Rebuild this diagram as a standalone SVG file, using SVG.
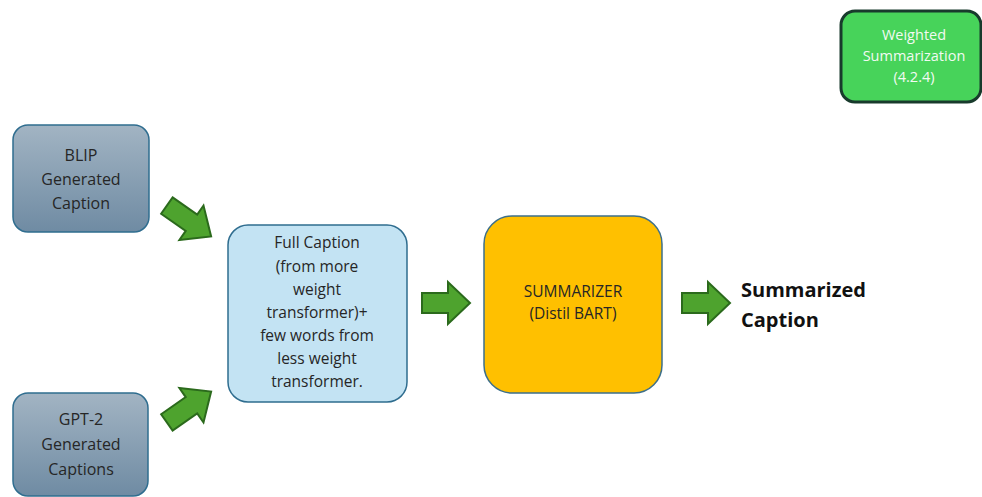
<svg xmlns="http://www.w3.org/2000/svg" width="982" height="497" viewBox="0 0 982 497">
<defs>
<linearGradient id="gray" x1="0" y1="0" x2="0" y2="1">
<stop offset="0" stop-color="#a2b4c3"/>
<stop offset="1" stop-color="#6f8ba3"/>
</linearGradient>
<path id="arr" d="M-24,-10 H2 V-21 L24,0 L2,21 V10 H-24 Z"/>
<path id="darr" d="M-27,-10 H3 V-21 L27,0 L3,21 V10 H-27 Z"/>
</defs>
<style>
text{font-family:"Open Sans","Liberation Sans",Arial,sans-serif;text-anchor:middle;fill:#262626}
.src{fill:url(#gray);stroke:#2f6d8f;stroke-width:1.5}
.t16{font-size:16px}
.t15{font-size:15.5px}
.a{fill:#4ea32e;stroke:#2b6a1c;stroke-width:2;stroke-linejoin:miter}
</style>
<rect width="982" height="497" fill="#ffffff"/>
<g id="weighted">
<rect x="841" y="11" width="140" height="91" rx="14" fill="#47d35a" stroke="#183a2c" stroke-width="3"/>
<text x="914" y="40" style="font-size:14.5px;fill:#f2faf2">Weighted</text>
<text x="914" y="61" style="font-size:14.5px;fill:#f2faf2">Summarization</text>
<text x="914" y="82" style="font-size:14.5px;fill:#f2faf2">(4.2.4)</text>
</g>
<g id="blip">
<rect class="src" x="13" y="125" width="136" height="107" rx="15"/>
<text class="t16" x="81" y="161">BLIP</text>
<text class="t16" x="81" y="185">Generated</text>
<text class="t16" x="81" y="209">Caption</text>
</g>
<g id="gpt2">
<rect class="src" x="13" y="393" width="135" height="103" rx="15"/>
<text class="t16" x="81" y="425">GPT-2</text>
<text class="t16" x="81" y="450">Generated</text>
<text class="t16" x="81" y="475">Captions</text>
</g>
<g id="full">
<rect x="228" y="225" width="179" height="177" rx="20" fill="#c3e3f3" stroke="#2f6d8f" stroke-width="1.5"/>
<text class="t15" x="317" y="248">Full Caption</text>
<text class="t15" x="317" y="272">(from more</text>
<text class="t15" x="317" y="295">weight</text>
<text class="t15" x="317" y="318">transformer)+</text>
<text class="t15" x="317" y="341">few words from</text>
<text class="t15" x="317" y="364">less weight</text>
<text class="t15" x="317" y="387">transformer.</text>
</g>
<g id="summarizer">
<rect x="484" y="216" width="178" height="177" rx="28" fill="#ffc000" stroke="#3d6f8a" stroke-width="1.5"/>
<text class="t15" x="573" y="297">SUMMARIZER</text>
<text class="t15" x="573" y="319">(Distil BART)</text>
</g>
<g id="output">
<text x="741" y="297" style="font-size:20px;font-weight:bold;text-anchor:start;fill:#111111">Summarized</text>
<text x="741" y="327" style="font-size:20px;font-weight:bold;text-anchor:start;fill:#111111">Caption</text>
</g>
<g id="connectors">
<use href="#darr" class="a" transform="translate(189,221) rotate(35)"/>
<use href="#darr" class="a" transform="translate(189,407) rotate(-35)"/>
<use href="#arr" class="a" transform="translate(446,303)"/>
<use href="#arr" class="a" transform="translate(706,303)"/>
</g>
</svg>
